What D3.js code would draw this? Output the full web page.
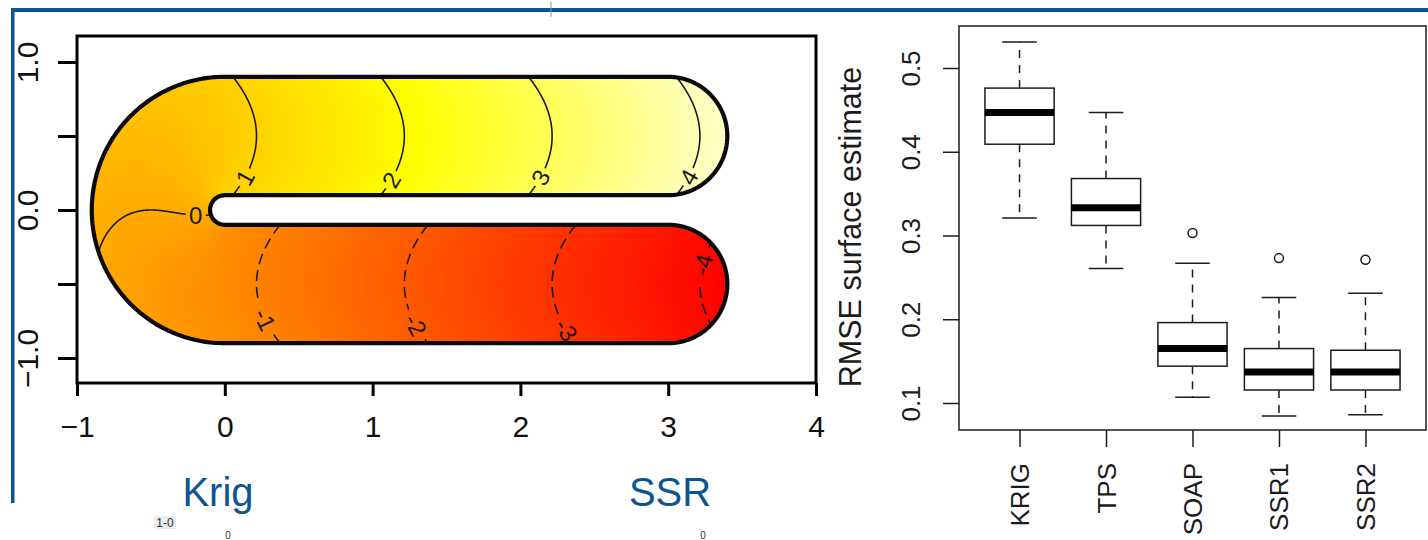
<!DOCTYPE html>
<html><head><meta charset="utf-8">
<script src="https://cdn.jsdelivr.net/npm/d3@7"></script>
<style>
body{margin:0;background:#fff;}
svg{display:block;font-family:"Liberation Sans",Arial,Helvetica,sans-serif;}
</style>
</head><body>
<svg id="c" width="1428" height="540"></svg>
<script>
// ---------------- data ----------------
// left panel: horseshoe domain (Ramsay / fs.test), parameters r0, r, arm length
const shapeParams = [0.1, 0.5, 3];
const xTicks = [-1, 0, 1, 2, 3, 4];
const yTicks = [-1, -0.5, 0, 0.5, 1];
const yTickLabels = ["\u22121.0", "", "0.0", "", "1.0"];
const contourLevels = [-4, -3, -2, -1, 0, 1, 2, 3, 4];
// where along each contour (distance from centre curve) the label sits
const contourLabelD = [-0.13, 0.31, 0.277, 0.24, -0.3, -0.28, -0.297, -0.28, -0.277];
const fRange = [-4.185, 4.185];
const panelLabels = ["Krig", "SSR"];
const fragmentTexts = ["1-0", "0", "0"];

// right panel: boxplot of RMSE
const methods = ["KRIG", "TPS", "SOAP", "SSR1", "SSR2"];
const whiskerLow  = [0.321, 0.2605, 0.107, 0.0845, 0.086];
const q1          = [0.409, 0.312, 0.144, 0.1155, 0.1155];
const medians     = [0.447, 0.333, 0.165, 0.137, 0.137];
const q3          = [0.476, 0.368, 0.196, 0.165, 0.163];
const whiskerHigh = [0.531, 0.447, 0.267, 0.226, 0.231];
const outliers    = [[], [], [0.303], [0.273], [0.271]];
const boxTicks = [0.1, 0.2, 0.3, 0.4, 0.5];
const boxTitle = "RMSE surface estimate";

// ---------------- drawing ----------------
const svg = d3.select("#c");
const blue = "#0d558f";

// slide frame
svg.append("rect").attr("x", 12).attr("y", 8).attr("width", 1416).attr("height", 4).attr("fill", blue);
svg.append("rect").attr("x", 11).attr("y", 8).attr("width", 3.5).attr("height", 495).attr("fill", blue);
svg.append("rect").attr("x", 550.5).attr("y", 2).attr("width", 1).attr("height", 15).attr("fill", "#6f95b8");

// ----- left panel -----
const [r0, rr, armL] = shapeParams;
const q = Math.PI * rr / 2;
const x = d3.scaleLinear().domain([-1, 4]).range([77, 816]);
const y = d3.scaleLinear().domain([-1, 1]).range([358, 62]);

function fsTest(px, py) {
  let a, d;
  if (px >= 0 && py > 0) { a = q + px; d = py - rr; }
  else if (px >= 0 && py <= 0) { a = -q - px; d = -rr - py; }
  else { a = -Math.atan(py / px) * rr; d = Math.hypot(px, py) - rr; }
  return a + d * d;
}
function heat(t) {
  t = Math.max(0, Math.min(1, t));
  if (t < 0.75) return d3.hsl(t / 0.75 * 60, 1, 0.5).rgb();
  const s = 1 - (t - 0.75) / 0.25 * 0.78;
  return d3.rgb(255, 255, Math.round(255 * (1 - s)));
}
const colorT = d3.scaleLinear().domain(fRange).range([0, 1]);

// boundary of the horseshoe
function arc(cx, cy, r, a0, a1, n) {
  return d3.range(n + 1).map(i => { const a = a0 + (a1 - a0) * i / n; return [cx + r * Math.cos(a), cy + r * Math.sin(a)]; });
}
const outerR = rr + (rr - r0), capR = rr - r0;
const boundary = [].concat(
  [[0, outerR], [armL, outerR]],
  arc(armL, rr, capR, Math.PI / 2, -Math.PI / 2, 60),
  [[armL, r0], [0, r0]],
  arc(0, 0, r0, Math.PI / 2, 3 * Math.PI / 2, 30),
  [[0, -r0], [armL, -r0]],
  arc(armL, -rr, capR, Math.PI / 2, -Math.PI / 2, 60),
  [[armL, -outerR], [0, -outerR]],
  arc(0, 0, outerR, -Math.PI / 2, -3 * Math.PI / 2, 120)
);
const line = d3.line().x(d => x(d[0])).y(d => y(d[1]));
const boundaryPath = line(boundary) + "Z";

const defs = svg.append("defs");
defs.append("clipPath").attr("id", "hs").append("path").attr("d", boundaryPath);

// raster fill
const X0 = 85, Y0 = 70, W = 650, H = 285;
const cv = document.createElement("canvas");
cv.width = W; cv.height = H;
const ctx = cv.getContext("2d");
const img = ctx.createImageData(W, H);
for (let j = 0; j < H; j++) {
  for (let i = 0; i < W; i++) {
    const dx = x.invert(X0 + i + 0.5), dy = y.invert(Y0 + j + 0.5);
    const c = heat(colorT(fsTest(dx, dy)));
    const k = (j * W + i) * 4;
    img.data[k] = c.r; img.data[k + 1] = c.g; img.data[k + 2] = c.b; img.data[k + 3] = 255;
  }
}
ctx.putImageData(img, 0, 0);
svg.append("image").attr("x", X0).attr("y", Y0).attr("width", W).attr("height", H)
  .attr("href", cv.toDataURL()).attr("clip-path", "url(#hs)");

// contours
const dSteps = d3.range(-0.4, 0.40001, 0.004);
function contourPieces(c) {
  const pieces = [];
  pieces.push(dSteps.map(d => { const px = c - q - d * d; return px >= 0 ? [px, rr + d] : null; }));
  pieces.push(dSteps.map(d => { const px = -c - q + d * d; return px >= 0 ? [px, -rr - d] : null; }));
  pieces.push(dSteps.map(d => { const ph = 2 * (d * d - c) / (rr * 2); const rho = rr + d;
    return Math.abs(ph) < Math.PI / 2 ? [-rho * Math.cos(ph), -rho * Math.sin(ph)] : null; }));
  return pieces;
}
function labelPoint(c, d) {
  const cand = [];
  let px = c - q - d * d; if (px >= 0 && c > 0) cand.push({p: [px, rr + d], slope: [-2 * d, 1]});
  px = -c - q + d * d; if (px >= 0 && c < 0) cand.push({p: [px, -rr - d], slope: [-2 * d, 1]});
  const ph = 2 * (d * d - c); const rho = rr + d;
  if (Math.abs(ph) < Math.PI / 2 && c === 0) cand.push({p: [-rho * Math.cos(ph), -rho * Math.sin(ph)], slope: [1, 0]});
  return cand[0];
}
const cl = d3.line().defined(d => d !== null).x(d => x(d[0])).y(d => y(d[1]));

const mask = defs.append("mask").attr("id", "lblmask").attr("maskUnits", "userSpaceOnUse")
  .attr("x", 0).attr("y", 0).attr("width", 1428).attr("height", 540);
mask.append("rect").attr("width", 1428).attr("height", 540).attr("fill", "#fff");

const labels = [];
contourLevels.forEach((c, i) => {
  const lp = labelPoint(c, contourLabelD[i]);
  if (!lp) return;
  const sx = x(lp.p[0]), sy = y(lp.p[1]);
  let vx = lp.slope[0] * (x(1) - x(0)), vy = -lp.slope[1] * (y(0) - y(1));
  if (c === 0) { vx = 1; vy = 0; }
  let ang = Math.atan2(vy, vx) * 180 / Math.PI;
  if (ang > 90) ang -= 180; if (ang < -90) ang += 180;
  const txt = String(c);
  labels.push({sx, sy, ang, txt});
  mask.append("rect").attr("x", -txt.length * 7 - 3).attr("y", -10).attr("width", txt.length * 14 + 6).attr("height", 20)
    .attr("transform", `translate(${sx},${sy}) rotate(${ang})`).attr("fill", "#000");
});

const cg = svg.append("g").attr("clip-path", "url(#hs)").append("g").attr("mask", "url(#lblmask)");
contourLevels.forEach(c => {
  contourPieces(c).forEach(pc => {
    cg.append("path").attr("d", cl(pc)).attr("fill", "none").attr("stroke", "#1a1a1a")
      .attr("stroke-width", 1.6).attr("stroke-dasharray", c < 0 ? "11,6" : null);
  });
});
svg.append("g").selectAll("text").data(labels).join("text")
  .attr("transform", d => `translate(${d.sx},${d.sy}) rotate(${d.ang})`)
  .attr("text-anchor", "middle").attr("dy", "0.36em")
  .attr("font-size", 24).attr("fill", "#1a1a1a").text(d => d.txt);

// horseshoe outline
svg.append("path").attr("d", boundaryPath).attr("fill", "none").attr("stroke", "#0a0a0a")
  .attr("stroke-width", 4.2).attr("stroke-linejoin", "round");

// plot box
svg.append("rect").attr("x", 77).attr("y", 36).attr("width", 739).attr("height", 347)
  .attr("fill", "none").attr("stroke", "#000").attr("stroke-width", 3);

// axes
const xAxis = d3.axisBottom(x).tickValues(xTicks).tickSize(13).tickPadding(20)
  .tickFormat(d => d < 0 ? "\u2212" + Math.abs(d) : String(d));
const gx = svg.append("g").attr("transform", "translate(0,383)").call(xAxis);
gx.select(".domain").remove();
gx.selectAll("line").attr("stroke", "#000").attr("stroke-width", 3);
gx.selectAll("text").attr("font-size", 30).attr("fill", "#111").attr("font-family", "Liberation Sans, Arial, sans-serif");

const yAxis = d3.axisLeft(y).tickValues(yTicks).tickSize(19).tickFormat((d, i) => yTickLabels[i]);
const gy = svg.append("g").attr("transform", "translate(77,0)").call(yAxis);
gy.select(".domain").remove();
gy.selectAll("line").attr("stroke", "#000").attr("stroke-width", 3);
gy.selectAll("text").attr("font-size", 30).attr("fill", "#111").attr("font-family", "Liberation Sans, Arial, sans-serif")
  .attr("text-anchor", "middle").attr("x", 0).attr("dy", 0)
  .attr("transform", "translate(-39,0) rotate(-90)");

// slide labels
svg.append("text").attr("x", 218).attr("y", 506).attr("text-anchor", "middle").attr("font-size", 40)
  .attr("fill", blue).text(panelLabels[0]);
svg.append("text").attr("x", 670).attr("y", 506).attr("text-anchor", "middle").attr("font-size", 40)
  .attr("fill", blue).text(panelLabels[1]);
// cropped slide fragments at bottom
svg.append("rect").attr("x", 154).attr("y", 516).attr("width", 22).attr("height", 13).attr("fill", "#ececec");
svg.append("text").attr("x", 165).attr("y", 527).attr("text-anchor", "middle").attr("font-size", 12)
  .attr("fill", "#333").text(fragmentTexts[0]);
svg.append("text").attr("x", 228).attr("y", 539).attr("text-anchor", "middle").attr("font-size", 10)
  .attr("fill", "#333").text(fragmentTexts[1]);
svg.append("text").attr("x", 703).attr("y", 539).attr("text-anchor", "middle").attr("font-size", 10)
  .attr("fill", "#333").text(fragmentTexts[2]);

// ----- right panel: boxplot -----
const bx = d3.scaleLinear().domain([0.3, 5.7]).range([959, 1426]);
const by = d3.scaleLinear().domain([0.1, 0.5]).range([403, 68]);
const bw = 0.4 * (bx(1) - bx(0)), cw = 0.2 * (bx(1) - bx(0));
const ink = "#1c1c1c";

const bg = svg.append("g");
methods.forEach((m, i) => {
  const cx = bx(i + 1);
  const g = bg.append("g");
  g.append("line").attr("x1", cx).attr("x2", cx).attr("y1", by(q3[i])).attr("y2", by(whiskerHigh[i]))
    .attr("stroke", ink).attr("stroke-width", 1.5).attr("stroke-dasharray", "8,7");
  g.append("line").attr("x1", cx).attr("x2", cx).attr("y1", by(q1[i])).attr("y2", by(whiskerLow[i]))
    .attr("stroke", ink).attr("stroke-width", 1.5).attr("stroke-dasharray", "8,7");
  [whiskerHigh[i], whiskerLow[i]].forEach(v => {
    g.append("line").attr("x1", cx - cw).attr("x2", cx + cw).attr("y1", by(v)).attr("y2", by(v))
      .attr("stroke", ink).attr("stroke-width", 1.5);
  });
  g.append("rect").attr("x", cx - bw).attr("width", 2 * bw).attr("y", by(q3[i])).attr("height", by(q1[i]) - by(q3[i]))
    .attr("fill", "#fff").attr("stroke", ink).attr("stroke-width", 1.5);
  g.append("line").attr("x1", cx - bw).attr("x2", cx + bw).attr("y1", by(medians[i])).attr("y2", by(medians[i]))
    .attr("stroke", "#000").attr("stroke-width", 7);
  outliers[i].forEach(v => {
    g.append("circle").attr("cx", cx).attr("cy", by(v)).attr("r", 4.5).attr("fill", "none")
      .attr("stroke", ink).attr("stroke-width", 1.5);
  });
});

svg.append("rect").attr("x", 959).attr("y", 26).attr("width", 467).attr("height", 404)
  .attr("fill", "none").attr("stroke", ink).attr("stroke-width", 1.5);

const byAxis = d3.axisLeft(by).tickValues(boxTicks).tickSize(16).tickFormat(d3.format(".1f"));
const gby = svg.append("g").attr("transform", "translate(959,0)").call(byAxis);
gby.select(".domain").remove();
gby.selectAll("line").attr("stroke", ink).attr("stroke-width", 1.5);
gby.selectAll("text").attr("font-size", 26).attr("fill", ink).attr("font-family", "Liberation Sans, Arial, sans-serif")
  .attr("text-anchor", "middle").attr("x", 0).attr("dy", 0)
  .attr("transform", "translate(-39,0) rotate(-90)");

const bxAxis = d3.axisBottom(bx).tickValues(d3.range(1, methods.length + 1)).tickSize(17).tickFormat(d => methods[d - 1]);
const gbx = svg.append("g").attr("transform", "translate(0,430)").call(bxAxis);
gbx.select(".domain").remove();
gbx.selectAll("line").attr("stroke", ink).attr("stroke-width", 1.5);
gbx.selectAll("text").attr("font-size", 26).attr("fill", ink).attr("font-family", "Liberation Sans, Arial, sans-serif")
  .attr("text-anchor", "end").attr("y", 0).attr("dy", 0)
  .attr("transform", "translate(9,33) rotate(-90)");

svg.append("text").attr("transform", "translate(861,227) rotate(-90)").attr("text-anchor", "middle")
  .attr("font-size", 30.5).attr("fill", ink).text(boxTitle);
</script>
</body></html>
